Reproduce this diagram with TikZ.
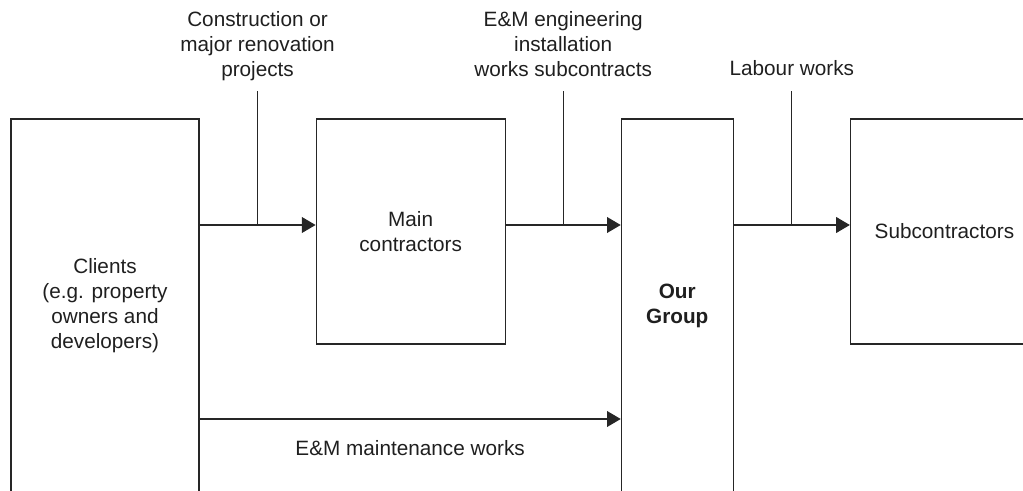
\documentclass[tikz,border=0pt]{standalone}
\usepackage{fontspec}
\setmainfont{Liberation Sans}
\usetikzlibrary{positioning}
\usetikzlibrary{arrows.meta}

\tikzset{
  box/.style={draw=black!85, line width=0.65pt, align=center, inner sep=0pt},
  wire/.style={draw=black!85, line width=0.65pt},
  flow/.style={wire, -{Triangle[length=7.8pt,width=9pt]}},
  tag/.style={align=center, inner sep=0pt, text depth=0pt}
}

\begin{document}
\begin{tikzpicture}[every node/.style={font=\fontsize{11.8}{14.2}\selectfont, text=black!88}]
\clip (0,0) rectangle (20.46,-9.82);
\node[box, minimum width=3.76cm, minimum height=7.48cm] (clients) at (2.1,-6.12)
  {Clients\\(e.g. property\\owners and\\developers)};
\node[box, minimum width=3.78cm, minimum height=4.5cm, right=2.32cm of clients.north east, anchor=north west] (main)
  {Main\\contractors};
\node[box, minimum width=2.24cm, minimum height=7.48cm, right=2.3cm of main.north east, anchor=north west, font=\fontsize{11.8}{14.2}\selectfont\bfseries] (group)
  {Our\\Group};
\node[box, minimum width=3.76cm, minimum height=4.5cm, right=2.32cm of group.north east, anchor=north west] (sub)
  {Subcontractors};

\coordinate (row) at (0,-4.5);
\coordinate (maint) at (0,-8.38);

\draw[flow] (clients.east |- row) -- coordinate (j1) (main.west |- row);
\draw[flow] (main.east |- row) -- coordinate (j2) (group.west |- row);
\draw[flow] (group.east |- row) -- coordinate (j3) (sub.west |- row);
\draw[flow] (clients.east |- maint) -- node[below=0.3cm] (mtext) {E\&M maintenance works} (group.west |- maint);

\node[tag, above=2.96cm of j1] (proj) {Construction or\\major renovation\\projects};
\node[tag, above=2.96cm of j2] (emwork) {E\&M engineering\\installation\\works subcontracts};
\node[tag, above=2.98cm of j3] (labour) {Labour works};

\draw[wire] (j1) -- ([yshift=-0.28cm]proj.south);
\draw[wire] (j2) -- ([yshift=-0.28cm]emwork.south);
\draw[wire] (j3) -- ([yshift=-0.3cm]labour.south);
\end{tikzpicture}
\end{document}
